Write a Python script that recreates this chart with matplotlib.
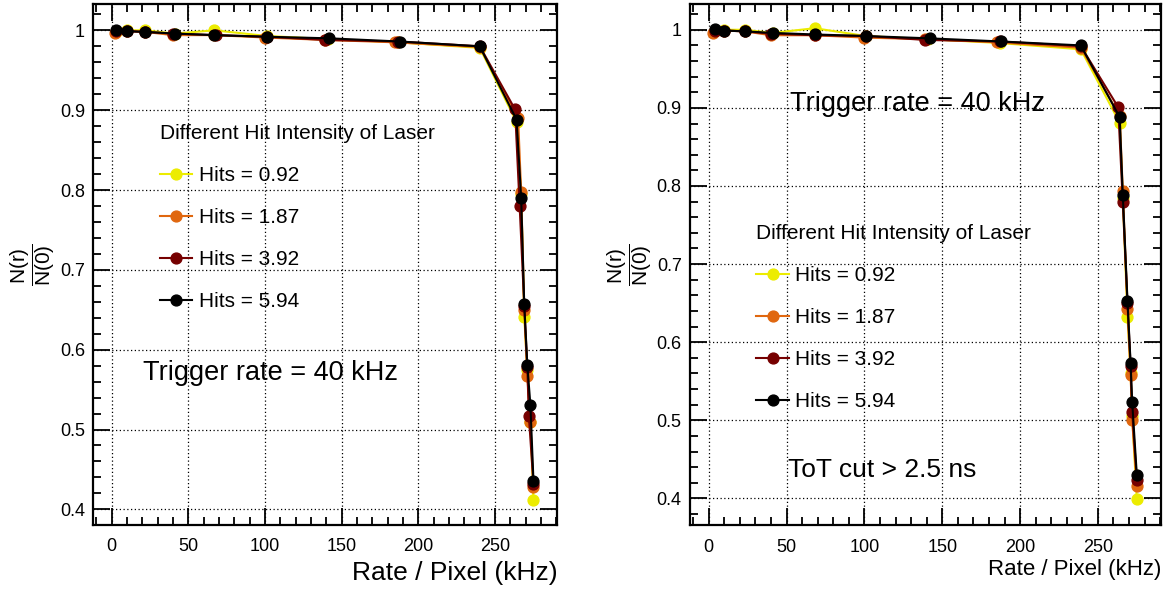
import numpy as np
import matplotlib.pyplot as plt
from matplotlib.ticker import MultipleLocator

# --------------------
# Data
# --------------------
LABELS = ["Hits = 0.92", "Hits = 1.87", "Hits = 3.92", "Hits = 5.94"]
COLORS = ["#ecec00", "#e0670f", "#760000", "#000000"]

# left panel: no ToT cut
x_left = [
    [3, 10, 22, 41, 67, 101, 141, 187, 240, 264, 267, 269, 271, 273, 275],
    [2, 10, 22, 40, 67, 100, 139, 185, 240, 265, 267, 269, 271, 273, 275],
    [3, 10, 22, 40, 68, 101, 139, 187, 240, 263, 266, 269, 271, 272, 275],
    [3, 10, 22, 41, 67, 101, 142, 188, 240, 264, 267, 269, 271, 273, 275],
]
y_left = [
    [0.998, 1.000, 1.000, 0.996, 1.000, 0.993, 0.989, 0.985, 0.978, 0.885, 0.795, 0.641, 0.575, 0.510, 0.412],
    [0.997, 0.999, 0.998, 0.994, 0.994, 0.991, 0.988, 0.985, 0.979, 0.890, 0.797, 0.650, 0.567, 0.509, 0.428],
    [0.999, 0.999, 0.998, 0.996, 0.994, 0.992, 0.988, 0.986, 0.980, 0.901, 0.780, 0.655, 0.578, 0.517, 0.432],
    [1.000, 0.999, 0.998, 0.996, 0.994, 0.992, 0.990, 0.986, 0.980, 0.888, 0.790, 0.657, 0.581, 0.531, 0.436],
]

# right panel: ToT cut > 2.5 ns
x_right = [
    [4, 10, 23, 41, 68, 101, 141, 187, 239, 264, 266, 269, 271, 272, 275],
    [3, 10, 23, 40, 68, 100, 139, 185, 239, 264, 266, 269, 271, 272, 275],
    [4, 10, 23, 40, 68, 101, 139, 187, 239, 263, 266, 269, 271, 272, 275],
    [4, 10, 23, 41, 68, 101, 142, 188, 239, 264, 266, 269, 271, 272, 275],
]
y_right = [
    [0.998, 1.000, 1.000, 0.996, 1.002, 0.992, 0.988, 0.983, 0.975, 0.881, 0.785, 0.632, 0.560, 0.505, 0.399],
    [0.996, 0.999, 0.998, 0.993, 0.993, 0.990, 0.988, 0.984, 0.977, 0.890, 0.793, 0.643, 0.558, 0.501, 0.416],
    [0.999, 0.999, 0.998, 0.995, 0.993, 0.992, 0.987, 0.985, 0.979, 0.901, 0.779, 0.650, 0.570, 0.511, 0.424],
    [1.001, 0.999, 0.998, 0.996, 0.994, 0.992, 0.989, 0.985, 0.980, 0.888, 0.788, 0.653, 0.573, 0.524, 0.430],
]

plt.rcParams['font.family'] = ['Liberation Sans', 'DejaVu Sans']
plt.rcParams['mathtext.fontset'] = 'custom'
plt.rcParams['mathtext.rm'] = 'Liberation Sans'
plt.rcParams['mathtext.it'] = 'Liberation Sans'

fig = plt.figure(figsize=(11.68, 5.97), dpi=100)
ax_l = fig.add_axes([0.0799, 0.1214, 0.3973, 0.8719])
ax_r = fig.add_axes([0.5908, 0.1206, 0.4033, 0.8727])


# --------------------
# ROOT-like frame
# --------------------
def style_axes(ax, ylim, xlabel_size, xlabel_pad):
    ax.set_xlim(-12, 290.6)
    ax.set_ylim(*ylim)
    ax.xaxis.set_major_locator(MultipleLocator(50))
    ax.xaxis.set_minor_locator(MultipleLocator(10))
    ax.yaxis.set_major_locator(MultipleLocator(0.1))
    ax.yaxis.set_minor_locator(MultipleLocator(0.02))
    ax.yaxis.set_major_formatter(plt.FuncFormatter(lambda v, p: "1" if abs(v - 1) < 1e-9 else f"{v:.1f}"))
    ax.tick_params(which='both', direction='in', top=True, right=True, width=1.3, labelsize=13)
    ax.tick_params(which='major', length=12)
    ax.tick_params(which='minor', length=6)
    ax.tick_params(axis='x', pad=10)
    ax.tick_params(axis='y', pad=6)
    for s in ax.spines.values():
        s.set_linewidth(1.6)
    ax.grid(True, which='major', linestyle=(0, (1, 2)), color='black', linewidth=0.9)
    ax.set_axisbelow(True)
    ax.set_xlabel("Rate / Pixel (kHz)", loc='right', fontsize=xlabel_size, labelpad=xlabel_pad)
    ax.set_ylabel(r'$\dfrac{\mathrm{N(r)}}{\mathrm{N(0)}}$', fontsize=15, labelpad=2)


def draw_series(ax, xs, ys):
    for x, y, c, lab in zip(xs, ys, COLORS, LABELS):
        ax.plot(x, y, '-o', color=c, linewidth=1.5, markersize=7.8, label=lab)


def add_legend(ax, anchor):
    ax.legend(title="Different Hit Intensity of Laser", loc='upper left',
              bbox_to_anchor=anchor, frameon=False, fontsize=15,
              title_fontsize=15, alignment='left', borderpad=0, borderaxespad=0,
              handlelength=1.55, handletextpad=0.3, labelspacing=1.1)


# --------------------
# Left panel
# --------------------
draw_series(ax_l, x_left, y_left)
style_axes(ax_l, (0.381, 1.033), 19, 4)
add_legend(ax_l, (0.1437, 0.769))
ax_l.text(0.107, 0.291, "Trigger rate = 40 kHz", transform=ax_l.transAxes,
          fontsize=19.5, va='center', ha='left')

# --------------------
# Right panel
# --------------------
draw_series(ax_r, x_right, y_right)
style_axes(ax_r, (0.366, 1.033), 16, 2)
add_legend(ax_r, (0.141, 0.577))
ax_r.text(0.212, 0.808, "Trigger rate = 40 kHz", transform=ax_r.transAxes,
          fontsize=19.5, va='center', ha='left')
ax_r.text(0.208, 0.106, "ToT cut > 2.5 ns", transform=ax_r.transAxes,
          fontsize=19, va='center', ha='left')

fig.savefig("out.png", dpi=100)
